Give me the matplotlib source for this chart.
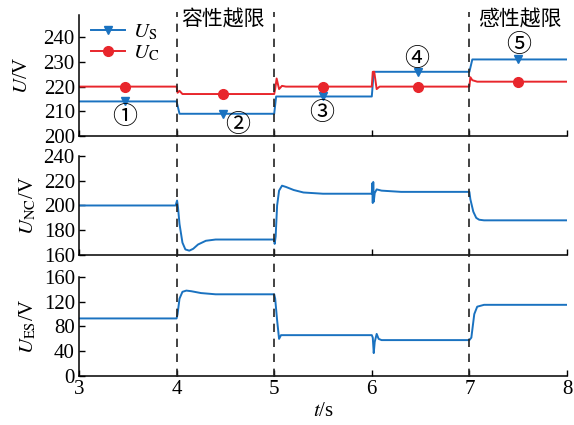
import matplotlib
matplotlib.use("Agg")
import matplotlib.pyplot as plt
import matplotlib.transforms as mtransforms
from matplotlib.lines import Line2D

plt.rcParams['font.family'] = ['Liberation Serif', 'DejaVu Serif']
plt.rcParams['mathtext.fontset'] = 'stix'
plt.rcParams['font.size'] = 15

# ---- data ----------------------------------------------------------
# supply voltage U_S and load voltage U_C (top panel)
us_t = [3, 4.0, 4.03, 5.0, 5.02, 6.0, 6.02, 7.0, 7.03, 8]
us_v = [214, 214, 209, 209, 216, 216, 226, 226, 231, 231]

uc_t = [3, 4.0, 4.01, 4.03, 4.06, 5.0, 5.01, 5.025, 5.05, 5.08, 5.12,
        6.0, 6.01, 6.025, 6.05, 6.08, 7.0, 7.01, 7.03, 7.08, 8]
uc_v = [220, 220, 217.5, 218.3, 217, 217, 219, 223.3, 219, 220.3, 220,
        220, 226, 226, 219, 220, 220, 223.8, 222.6, 222, 222]

# marker positions (one per operating stage)
mark_t = [3.47, 4.48, 5.5, 6.47, 7.5]
us_mark = [214, 209, 216, 226, 231]
uc_mark = [220, 217, 220, 220, 222]

stage_labels = ['①', '②', '③', '④', '⑤']
stage_t = [3.47, 4.63, 5.49, 6.46, 7.5]
stage_v = [207.5, 204.5, 209.3, 231, 236.8]

# NC voltage (middle panel)
unc_t = [3, 3.99, 4.005, 4.015, 4.03, 4.06, 4.09, 4.13, 4.17, 4.22, 4.3,
         4.4, 4.6, 5.0, 5.005, 5.015, 5.03, 5.05, 5.08, 5.12, 5.2, 5.3, 5.5,
         6.0, 6.005, 6.01, 6.015, 6.02, 6.03, 6.05, 6.1, 6.3, 7.0, 7.01,
         7.04, 7.07, 7.1, 7.15, 8]
unc_v = [200, 200, 204, 198, 185, 170, 164.5, 163.5, 165, 168.5, 171.5,
         172.5, 172.5, 172.5, 169, 175, 200, 212, 216, 215, 212.5, 210.5, 209.5,
         209.5, 218, 202, 219, 203, 210, 213, 212, 211, 211, 205,
         195, 190, 188.5, 188, 188]

# ES voltage (bottom panel)
ues_t = [3, 4.0, 4.01, 4.03, 4.06, 4.1, 4.15, 4.25, 4.4, 5.0, 5.01, 5.03,
         5.05, 5.07, 5.1, 6.0, 6.01, 6.02, 6.03, 6.05, 6.07, 6.1, 7.0, 7.02,
         7.05, 7.08, 7.15, 8]
ues_v = [93, 93, 100, 125, 136, 138, 137, 134, 132, 132, 125, 90,
         60, 66, 66, 66, 62, 37, 55, 68, 60, 58, 58, 62,
         100, 112, 115, 115]

event_t = [4, 5, 7]
xticks = [3, 4, 5, 6, 7, 8]

blue = '#1a72c0'
red = '#e8262c'
cjk = ['Noto Sans CJK SC', 'DejaVu Sans']

fig = plt.figure(figsize=(5.74, 4.25), dpi=100)
ax1 = fig.add_axes([0.1376, 0.68, 0.8502, 0.2847])
ax2 = fig.add_axes([0.1376, 0.40, 0.8502, 0.233])
ax3 = fig.add_axes([0.1376, 0.1153, 0.8502, 0.233])

for ax in (ax1, ax2, ax3):
    ax.spines['top'].set_visible(False)
    ax.spines['right'].set_visible(False)
    ax.spines['left'].set_linewidth(1.1)
    ax.spines['bottom'].set_linewidth(1.1)
    ax.tick_params(direction='in', length=4, width=1, pad=3)
    ax.set_xlim(3, 8)
    ax.set_xticks(xticks)

ax1.tick_params(labelbottom=False)
ax2.tick_params(labelbottom=False)

# top panel
l1, = ax1.plot(us_t, us_v, color=blue, lw=1.4)
m1, = ax1.plot(mark_t, us_mark, ls='none', marker='v', color=blue, ms=6)
l2, = ax1.plot(uc_t, uc_v, color=red, lw=1.4)
m2, = ax1.plot(mark_t, uc_mark, ls='none', marker='o', color=red, ms=7)
ax1.set_ylim(200, 249)
ax1.set_yticks([200, 210, 220, 230, 240])
ax1.set_ylabel(r'$U$/V', labelpad=8)

for s, tx, vy in zip(stage_labels, stage_t, stage_v):
    ax1.text(tx, vy, s, ha='center', va='center', fontsize=18, family=cjk)

ax1.text(4.48, 247, '容性越限', ha='center', va='center', fontsize=15, family=cjk)
ax1.text(7.52, 247, '感性越限', ha='center', va='center', fontsize=15, family=cjk)

ax1.legend([(l1, m1), (l2, m2)], [r'$U_{\rm S}$', r'$U_{\rm C}$'],
           loc='upper left', bbox_to_anchor=(0.0, 1.04), frameon=False,
           handlelength=1.6, handletextpad=0.4, labelspacing=0.05,
           borderaxespad=0.2, fontsize=15)

# middle panel
ax2.plot(unc_t, unc_v, color=blue, lw=1.4)
ax2.set_ylim(160, 240)
ax2.set_yticks([160, 180, 200, 220, 240])
ax2.set_ylabel(r'$U_{\rm NC}$/V', labelpad=4)

# bottom panel
ax3.plot(ues_t, ues_v, color=blue, lw=1.4)
ax3.set_ylim(0, 160)
ax3.set_yticks([0, 40, 80, 120, 160])
ax3.set_ylabel(r'$U_{\rm ES}$/V', labelpad=4)
ax3.set_xlabel(r'$t$/s', labelpad=2)

fig.align_ylabels([ax1, ax2, ax3])

# switching instants, spanning all three panels
trans = mtransforms.blended_transform_factory(ax3.transData, fig.transFigure)
for te in event_t:
    fig.add_artist(Line2D([te, te], [0.112, 0.972], transform=trans,
                          color='#222222', lw=1.2, ls=(0, (5, 4))))

fig.savefig('out.png', dpi=100)
